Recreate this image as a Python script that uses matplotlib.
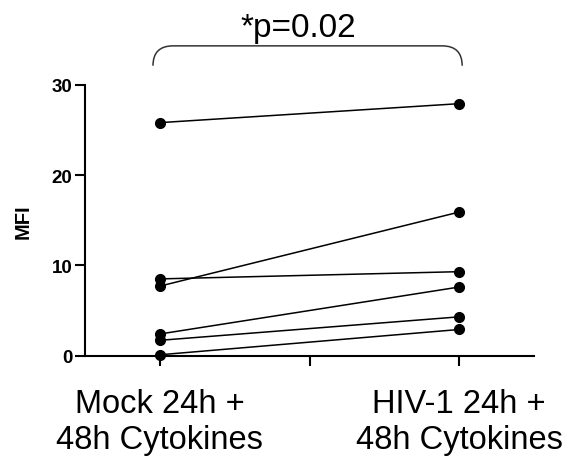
import matplotlib
matplotlib.use("Agg")
import matplotlib.pyplot as plt
from matplotlib.path import Path
from matplotlib.patches import PathPatch

plt.rcParams['font.family'] = ['Liberation Sans', 'DejaVu Sans']

# paired MFI values, mock vs HIV-1
mock = [25.8, 8.5, 7.7, 2.4, 1.7, 0.1]
hiv = [27.9, 9.3, 15.9, 7.6, 4.3, 2.9]
group_labels = ['Mock 24h +\n48h Cytokines', 'HIV-1 24h +\n48h Cytokines']
y_ticks = [0, 10, 20, 30]
p_text = '*p=0.02'

fig = plt.figure(figsize=(5.8, 4.64), dpi=100)
ax = fig.add_axes([0.1466, 0.2313, 0.7741, 0.584])

for a, b in zip(mock, hiv):
    ax.plot([0, 1], [a, b], color='black', lw=1.1, marker='o', ms=7,
            clip_on=False, zorder=3)

ax.set_xlim(-0.25, 1.25)
ax.set_ylim(0, 30)
ax.set_xticks([0, 0.5, 1])
ax.set_xticklabels([group_labels[0], '', group_labels[1]], fontsize=23.5,
                   linespacing=1.22)
ax.set_yticks(y_ticks)
ax.set_yticklabels([str(t) for t in y_ticks], fontsize=13.5, fontweight='bold')
ax.tick_params(axis='both', direction='out', length=7, width=1.5)
ax.tick_params(axis='x', pad=16)
ax.tick_params(axis='y', pad=2)
ax.set_ylabel('MFI', fontsize=14.5, fontweight='heavy', labelpad=14)

for s in ['top', 'right']:
    ax.spines[s].set_visible(False)
for s in ['left', 'bottom']:
    ax.spines[s].set_linewidth(1.5)

# bracket above the pair
x0, x1 = -0.023, 1.01
yb, yt = 32.1, 34.3
rx, ry = 0.067, 2.2
verts = [(x0, yb), (x0, yt), (x0 + rx, yt),
         (x1 - rx, yt),
         (x1, yt), (x1, yb)]
codes = [Path.MOVETO, Path.CURVE3, Path.CURVE3, Path.LINETO,
         Path.CURVE3, Path.CURVE3]
ax.add_patch(PathPatch(Path(verts, codes), fill=False, lw=1.1,
                       edgecolor='#333333', clip_on=False))
ax.text(0.462, 35.4, p_text, ha='center', va='baseline', fontsize=24)

fig.savefig('out.png', dpi=100)
